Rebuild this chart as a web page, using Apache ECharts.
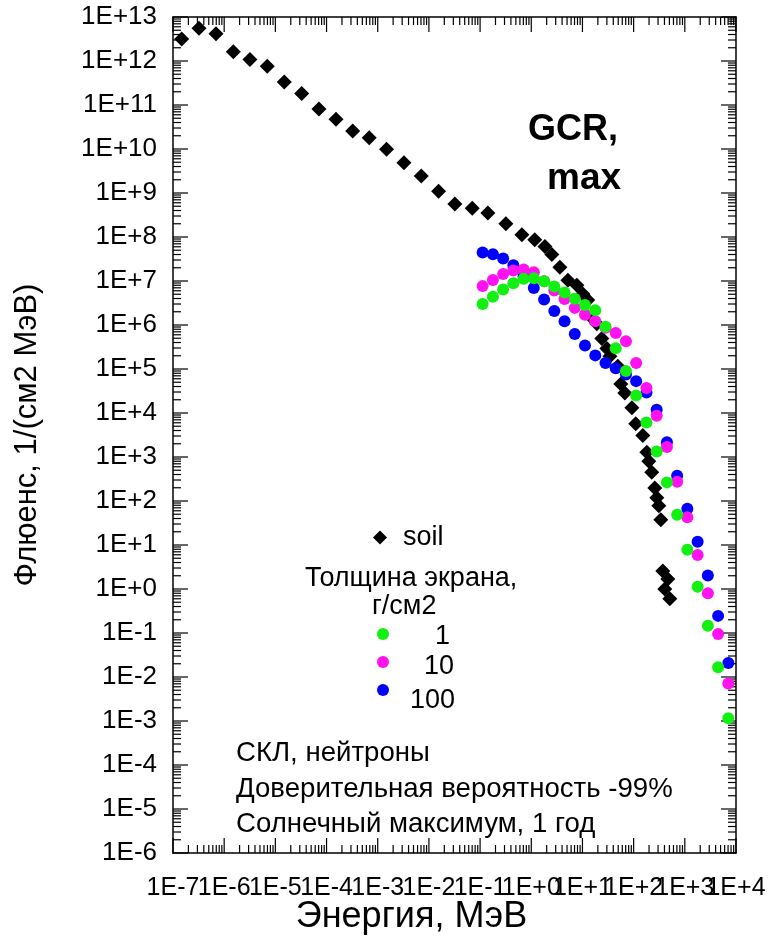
<!DOCTYPE html>
<html lang="ru">
<head>
<meta charset="UTF-8">
<title>GCR max</title>
<style>
  html, body { margin: 0; padding: 0; background: #fff; }
  #main { width: 773px; height: 940px; }
</style>
</head>
<body>
<div id="main"></div>
<script src="https://cdn.jsdelivr.net/npm/echarts/dist/echarts.min.js"></script>
<script>
// soil, энергия (МэВ) и флюенс
var soilE = [1.48e-7, 3.22e-7, 6.92e-7, 1.51e-6, 3.19e-6, 6.95e-6, 1.49e-5, 3.27e-5, 7.11e-5, 1.53e-4,
  3.24e-4, 6.82e-4, 1.49e-3, 3.25e-3, 7.08e-3, 1.55e-2, 3.22e-2, 7.02e-2, 0.142, 0.319,
  0.655, 1.17, 1.85, 2.52, 3.62, 5.19, 7.78, 10.2, 12.7, 16.0,
  19.1, 23.9, 30.0, 34.3, 49.1, 56.2, 67.3, 92.3, 110, 151,
  181, 198, 226, 259, 284, 310, 340, 372, 466, 406, 509];
var soilF = [3.16e12, 5.57e12, 4.15e12, 1.63e12, 1.08e12, 7.62e11, 3.33e11, 1.83e11, 8.1e10, 4.75e10,
  2.55e10, 1.81e10, 9.86e9, 4.88e9, 2.43e9, 1.09e9, 5.62e8, 4.5e8, 3.53e8, 2.0e8,
  1.13e8, 8.7e7, 6.07e7, 4.0e7, 2.05e7, 1.04e7, 8.05e6, 5.06e6, 3.71e6, 1.38e6,
  1.07e6, 4.92e5, 2.93e5, 1.94e5, 1.15e5, 4.54e4, 2.85e4, 1.31e4, 5.73e3, 3.08e3,
  1.28e3, 800, 453, 198, 118, 77.8, 37.7, 2.55, 1.69, 1.0, 0.6];

// толщина экрана 1, 10, 100 г/см2
var shieldE = [0.112, 0.178, 0.282, 0.447, 0.708, 1.12, 1.78, 2.82, 4.47, 7.08,
  11.2, 17.8, 28.2, 44.7, 70.8, 112, 178, 282, 447, 708,
  1120, 1780, 2820, 4470, 7080];
var f1 = [3.01e6, 4.4e6, 6.38e6, 8.93e6, 1.12e7, 1.16e7, 9.9e6, 7.53e6, 5.46e6, 3.96e6,
  2.86e6, 2.15e6, 9.16e5, 2.98e5, 9.04e4, 2.5e4, 6.12e3, 1.34e3, 265, 48.9,
  7.76, 1.13, 0.146, 0.0166, 0.00116];
var f10 = [7.65e6, 1.06e7, 1.45e7, 1.73e7, 1.82e7, 1.58e7, 9.9e6, 6.12e6, 3.9e6, 2.45e6,
  1.70e6, 1.22e6, 8.7e5, 6.6e5, 4.28e5, 1.37e5, 3.69e4, 8.7e3, 1.68e3, 274,
  42.5, 5.94, 0.805, 0.0944, 0.0071];
var f100 = [4.45e7, 4.07e7, 3.26e7, 2.27e7, 1.28e7, 6.9e6, 3.8e6, 2.09e6, 1.22e6, 6.27e5,
  3.42e5, 2.04e5, 1.37e5, 1.04e5, 7.5e4, 5.3e4, 2.92e4, 1.18e4, 2.17e3, 374,
  66.7, 11.8, 2.02, 0.245, 0.0207];

var notes = ['СКЛ, нейтроны', 'Доверительная вероятность -99%', 'Солнечный максимум, 1 год'];

var font = '"Liberation Sans", Arial, sans-serif';

function zip(xs, ys) {
  return xs.map(function (x, i) { return [x, ys[i]]; });
}
function expLabel(v) {
  var e = Math.round(Math.log10(v));
  return '1E' + (e >= 0 ? '+' : '') + e;
}
function decades(e0, e1) {
  var out = [];
  for (var e = e0; e <= e1; e++) out.push(Math.pow(10, e));
  return out;
}
// деления логарифмических осей (1..9 в каждой декаде)
function logTicks(e0, e1) {
  var out = [];
  for (var e = e0; e < e1; e++) {
    for (var k = 1; k <= 9; k++) out.push([k * Math.pow(10, e), k === 1 ? 1 : 0]);
  }
  out.push([Math.pow(10, e1), 1]);
  return out;
}
var xLabels = decades(-7, 4);
var yLabels = decades(-6, 13);
var xTicks = logTicks(-7, 4);
var yTicks = logTicks(-6, 13);
// подписи по x стоят вплотную, поэтому делим их на две оси (через одну)
var xLabelsA = xLabels.filter(function (v, i) { return i % 2 === 0; });
var xLabelsB = xLabels.filter(function (v, i) { return i % 2 === 1; });

var chart = echarts.init(document.getElementById('main'));

var axisCommon = {
  type: 'log',
  logBase: 10,
  axisLine: { show: true, lineStyle: { color: '#000', width: 1.5 } },
  axisTick: { show: false },
  splitLine: { show: false },
  minorTick: { show: false }
};
var xLabelStyle = {
  formatter: expLabel, fontFamily: font, fontSize: 25, color: '#000',
  margin: 23, showMinLabel: true, showMaxLabel: true, hideOverlap: false, interval: 0
};
var txt = function (size) { return size + 'px ' + font; };

var option = {
  animation: false,
  backgroundColor: '#fff',
  grid: { left: 173, top: 17, right: 37, bottom: 78, containLabel: false },
  xAxis: [
    Object.assign({}, axisCommon, {
      min: 1e-7, max: 1e4, position: 'bottom',
      name: 'Энергия, МэВ', nameLocation: 'middle', nameGap: 46, nameMoveOverlap: false,
      nameTextStyle: { fontFamily: font, fontSize: 36, color: '#000', padding: [0, 86, 0, 0] },
      axisLabel: Object.assign({ customValues: xLabelsA }, xLabelStyle)
    }),
    Object.assign({}, axisCommon, {
      min: 1e-7, max: 1e4, position: 'top', axisLabel: { show: false }
    }),
    Object.assign({}, axisCommon, {
      min: 1e-7, max: 1e4, position: 'bottom', offset: 0,
      axisLine: { show: false },
      axisLabel: Object.assign({ customValues: xLabelsB }, xLabelStyle)
    })
  ],
  yAxis: [
    Object.assign({}, axisCommon, {
      min: 1e-6, max: 1e13, position: 'left',
      name: 'Флюенс, 1/(см2 МэВ)', nameLocation: 'middle', nameGap: 130, nameMoveOverlap: false,
      nameTextStyle: { fontFamily: font, fontSize: 31, color: '#000' },
      axisLabel: {
        customValues: yLabels, formatter: expLabel, fontFamily: font, fontSize: 26, color: '#000',
        margin: 16, padding: [5, 0, 0, 0], showMinLabel: true, showMaxLabel: true, hideOverlap: false
      }
    }),
    Object.assign({}, axisCommon, {
      min: 1e-6, max: 1e13, position: 'right', axisLabel: { show: false }
    })
  ],
  legend: [
    {
      data: [{ name: 'soil', icon: 'diamond' }], padding: 0,
      left: 373, top: 524, itemWidth: 14, itemHeight: 14,
      textStyle: { fontFamily: font, fontSize: 27, color: '#000', padding: [0, 0, 0, 11] }
    },
    {
      data: [{ name: '1', icon: 'circle' }, { name: '10', icon: 'circle' }, { name: '100', icon: 'circle' }],
      orient: 'vertical', padding: 0, itemGap: 16,
      left: 377, top: 628, itemWidth: 12, itemHeight: 12,
      formatter: function () { return ''; }
    }
  ],
  graphic: [
    {
      type: 'text', left: 528, top: 112,
      style: { text: 'GCR,', font: 'bold ' + txt(36), fill: '#000' }
    },
    {
      type: 'text', left: 547, top: 160,
      style: { text: 'max', font: 'bold ' + txt(37), fill: '#000' }
    },
    {
      type: 'text', left: 305, top: 565,
      style: { text: 'Толщина экрана,', font: txt(27), fill: '#000' }
    },
    {
      type: 'text', left: 372, top: 593,
      style: { text: 'г/см2', font: txt(27), fill: '#000' }
    },
    // подписи легенды толщин
    { type: 'text', left: 435, top: 623, style: { text: '1', font: txt(27), fill: '#000' } },
    { type: 'text', left: 424, top: 653, style: { text: '10', font: txt(27), fill: '#000' } },
    { type: 'text', left: 410, top: 687, style: { text: '100', font: txt(27), fill: '#000' } },
    {
      type: 'text', left: 236, top: 736,
      style: { text: notes.join('\n'), font: txt(27.6), fill: '#000', lineHeight: 35.5 }
    }
  ],
  series: [
    {
      name: 'xticks', type: 'custom', silent: true, clip: false, z: 1,
      data: xTicks,
      renderItem: function (params, api) {
        var cs = params.coordSys;
        var x = api.coord([api.value(0), 1])[0];
        var len = api.value(1) ? 15 : 8;
        var st = { stroke: '#000', lineWidth: 1.2 };
        return {
          type: 'group', children: [
            { type: 'line', shape: { x1: x, y1: cs.y + cs.height, x2: x, y2: cs.y + cs.height - len }, style: st },
            { type: 'line', shape: { x1: x, y1: cs.y, x2: x, y2: cs.y + len }, style: st }
          ]
        };
      }
    },
    {
      name: 'yticks', type: 'custom', silent: true, clip: false, z: 1,
      data: yTicks.map(function (t) { return [1, t[0], t[1]]; }),
      renderItem: function (params, api) {
        var cs = params.coordSys;
        var y = api.coord([1, api.value(1)])[1];
        var len = api.value(2) ? 15 : 8;
        var st = { stroke: '#000', lineWidth: 1.2 };
        return {
          type: 'group', children: [
            { type: 'line', shape: { x1: cs.x, y1: y, x2: cs.x + len, y2: y }, style: st },
            { type: 'line', shape: { x1: cs.x + cs.width, y1: y, x2: cs.x + cs.width - len, y2: y }, style: st }
          ]
        };
      }
    },
    {
      name: 'soil', type: 'scatter', symbol: 'diamond', symbolSize: 15,
      itemStyle: { color: '#000', opacity: 1 }, data: zip(soilE, soilF)
    },
    {
      name: '100', type: 'scatter', symbol: 'circle', symbolSize: 12,
      itemStyle: { color: '#0000ff', opacity: 1 }, data: zip(shieldE, f100)
    },
    {
      name: '10', type: 'scatter', symbol: 'circle', symbolSize: 12,
      itemStyle: { color: '#ff11f0', opacity: 1 }, data: zip(shieldE, f10)
    },
    {
      name: '1', type: 'scatter', symbol: 'circle', symbolSize: 12,
      itemStyle: { color: '#11f011', opacity: 1 }, data: zip(shieldE, f1)
    }
  ]
};

chart.setOption(option);
</script>
</body>
</html>
